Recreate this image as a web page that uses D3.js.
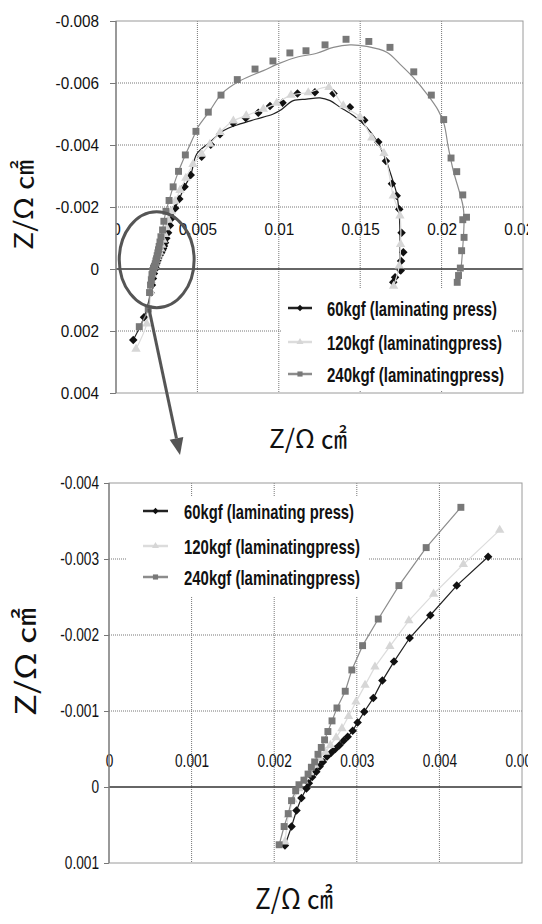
<!DOCTYPE html>
<html lang="en">
<head>
<meta charset="UTF-8">
<title>Impedance - laminating press</title>
<style>
  body { margin: 0; background: #fff; }
  svg { display: block; }
  .tick text { font-family: "Liberation Sans", Arial, sans-serif; fill: #111; }
  .legend-text { font-family: "Liberation Sans", Arial, sans-serif; font-weight: bold; fill: #111; }
  .axis-title { font-family: "Noto Sans CJK KR", sans-serif; fill: #111; }
</style>
</head>
<body>
<div id="chart"></div>
<script src="https://cdn.jsdelivr.net/npm/d3@7"></script>
<script>
// series names
const seriesNames = ["60kgf (laminating press)", "120kgf (laminatingpress)", "240kgf (laminatingpress)"];

// Z' , Z'' pairs (Z'' negative = up)
const z60 = [
  [0.00106, 0.00229], [0.00172, 0.00156], [0.00213, 0.00077], [0.00221, 0.00052],
  [0.00227, 0.00031], [0.00233, 0.000145], [0.00239, 0.00002], [0.00242, -0.00005],
  [0.00246, -0.00013], [0.00251, -0.00020], [0.00255, -0.00027], [0.00259, -0.00033],
  [0.00264, -0.00040], [0.00269, -0.00045], [0.00274, -0.00050], [0.00279, -0.00055],
  [0.00284, -0.00061], [0.00289, -0.00066], [0.00295, -0.00074], [0.00301, -0.00085],
  [0.00309, -0.00099], [0.00320, -0.00117], [0.00331, -0.00140], [0.00345, -0.00165],
  [0.00364, -0.00196], [0.00389, -0.00226], [0.00421, -0.00265], [0.00459, -0.00303],
  [0.00526, -0.00362], [0.00582, -0.00401], [0.00639, -0.00435], [0.00719, -0.00471],
  [0.00797, -0.00487], [0.00874, -0.00504], [0.00946, -0.00526], [0.01023, -0.00536],
  [0.01115, -0.00566], [0.01222, -0.00570], [0.01336, -0.00566], [0.01437, -0.00522],
  [0.01525, -0.00480], [0.01611, -0.00410], [0.01658, -0.00348], [0.01695, -0.00275],
  [0.01724, -0.00236], [0.01740, -0.00193], [0.01754, -0.00117], [0.01765, -0.00054],
  [0.01751, -0.00026], [0.01749, 0.00005], [0.01714, 0.00027], [0.01703, 0.00043]
];
const z120 = [
  [0.00123, 0.00258], [0.00189, 0.00177], [0.00213, 0.00072], [0.00217, 0.00037],
  [0.00223, 0.00017], [0.00230, 0.00002], [0.00236, -0.00008], [0.00243, -0.00019],
  [0.00249, -0.00029], [0.00255, -0.00038], [0.00262, -0.00046], [0.00268, -0.00055],
  [0.00275, -0.00065], [0.00282, -0.00077], [0.00290, -0.00093], [0.00299, -0.00112],
  [0.00310, -0.00134], [0.00322, -0.00158], [0.00340, -0.00185], [0.00363, -0.00219],
  [0.00393, -0.00254], [0.00429, -0.00293], [0.00473, -0.00338], [0.00526, -0.00371],
  [0.00577, -0.00403], [0.00639, -0.00441], [0.00721, -0.00478], [0.00800, -0.00495],
  [0.00905, -0.00516], [0.00987, -0.00535], [0.01075, -0.00561], [0.01181, -0.00569],
  [0.01308, -0.00586], [0.01396, -0.00527], [0.01499, -0.00490], [0.01571, -0.00423],
  [0.01646, -0.00373], [0.01703, -0.00236], [0.01744, -0.00172], [0.01748, -0.00080],
  [0.01740, -0.00010], [0.01705, 0.00055]
];
const z240 = [
  [0.00143, 0.00186], [0.00198, 0.00129], [0.00206, 0.00076], [0.00212, 0.00052],
  [0.00217, 0.00035], [0.00221, 0.00018], [0.00226, 0.00005], [0.00230, -0.00003],
  [0.00236, -0.00009], [0.00241, -0.00017], [0.00245, -0.00026], [0.00249, -0.00033],
  [0.00253, -0.00043], [0.00257, -0.00052], [0.00261, -0.00062], [0.00265, -0.00073],
  [0.00270, -0.00087], [0.00276, -0.00104], [0.00286, -0.00126], [0.00294, -0.00154],
  [0.00307, -0.00186], [0.00326, -0.00221], [0.00351, -0.00265], [0.00384, -0.00315],
  [0.00426, -0.00368], [0.00491, -0.00444], [0.00567, -0.00506], [0.00645, -0.00561],
  [0.00745, -0.00611], [0.00854, -0.00645], [0.00964, -0.00671], [0.01068, -0.00697],
  [0.01167, -0.00704], [0.01284, -0.00723], [0.01413, -0.00741], [0.01553, -0.00734],
  [0.01683, -0.00715], [0.01829, -0.00636], [0.01937, -0.00561], [0.02013, -0.00482],
  [0.02058, -0.00358], [0.02093, -0.00314], [0.02130, -0.00239], [0.02153, -0.00167],
  [0.02130, -0.00159], [0.02138, -0.00102], [0.02123, -0.00059], [0.02115, -0.00003],
  [0.02104, 0.00021], [0.02096, 0.00043]
];

// fitted curves shown on the full plot
const fit60 = [
  [0.00496, -0.00371], [0.00577, -0.00409], [0.00659, -0.00446], [0.00762, -0.00468],
  [0.00864, -0.00484], [0.00966, -0.00500], [0.01007, -0.00511], [0.01089, -0.00543],
  [0.01171, -0.00548], [0.01253, -0.00552], [0.01315, -0.00543], [0.01376, -0.00522],
  [0.01458, -0.00495], [0.01540, -0.00457], [0.01601, -0.00414], [0.01652, -0.00360],
  [0.01694, -0.00296], [0.01724, -0.00242], [0.01738, -0.00188], [0.01744, -0.00124],
  [0.01744, 0.00016]
];
const fit240 = [
  [0.00496, -0.00452], [0.00577, -0.00511], [0.00649, -0.00565], [0.00762, -0.00607],
  [0.00905, -0.00640], [0.01007, -0.00664], [0.01110, -0.00683], [0.01233, -0.00696],
  [0.01335, -0.00715], [0.01437, -0.00723], [0.01540, -0.00718], [0.01663, -0.00699],
  [0.01744, -0.00661], [0.01826, -0.00618], [0.01909, -0.00565], [0.01980, -0.00511],
  [0.02015, -0.00468], [0.02041, -0.00393], [0.02072, -0.00317], [0.02113, -0.00242],
  [0.02133, -0.00199], [0.02138, -0.00156], [0.02130, -0.00070], [0.02117, 0.00016]
];

// ticks
const topXTicks = [0, 0.005, 0.01, 0.015, 0.02, 0.025];
const topYTicks = [-0.008, -0.006, -0.004, -0.002, 0, 0.002, 0.004];
const botXTicks = [0, 0.001, 0.002, 0.003, 0.004, 0.005];
const botYTicks = [-0.004, -0.003, -0.002, -0.001, 0, 0.001];

// zoomed region marked on the full plot
const zoomMark = { x: 0.0025, y: -0.0003, rx: 0.0023, ry: 0.00155 };

const series = [
  { name: seriesNames[0], data: z60, fit: fit60, color: "#111", line: "#222", symbol: d3.symbolDiamond2, size: 46 },
  { name: seriesNames[1], data: z120, fit: null, color: "#d6d6d6", line: "#dcdcdc", symbol: d3.symbolTriangle, size: 38 },
  { name: seriesNames[2], data: z240, fit: fit240, color: "#787878", line: "#8c8c8c", symbol: d3.symbolSquare, size: 48 }
];

const svg = d3.select("#chart").append("svg")
  .attr("width", 542)
  .attr("height", 924);

const panels = [
  {
    id: "full",
    x: d3.scaleLinear([0, 0.025], [116, 523]),
    y: d3.scaleLinear([-0.008, 0.004], [21, 393]),
    xTicks: topXTicks, yTicks: topYTicks,
    labelAt: -0.00129, fontSize: 17, squeeze: 0.9, tickSize: 6, tickPad: 11,
    clip: [116, 528],
    legend: { x: 281, y: 289, w: 230, h: 101, rows: [308, 342, 374], line: [288, 312], textX: 327, widths: [170, 175, 177] },
    xTitle: { x: 269, y: 448, len: 78, size: 26 },
    yTitle: { x: 24, y: 205, len: 90, size: 26 },
    full: true
  },
  {
    id: "zoom",
    x: d3.scaleLinear([0, 0.005], [109, 522]),
    y: d3.scaleLinear([-0.004, 0.001], [483, 863]),
    xTicks: botXTicks, yTicks: botYTicks,
    labelAt: -0.00034, fontSize: 17.5, squeeze: 0.78, tickSize: 5, tickPad: 5,
    clip: [100, 528],
    legend: { x: 127, y: 497, w: 241, h: 100, rows: [511, 546, 577], line: [143, 168], textX: 184, widths: [170, 176, 176] },
    xTitle: { x: 255, y: 909, len: 78, size: 28 },
    yTitle: { x: 26, y: 662, len: 108, size: 28 },
    full: false
  }
];

// narrow the tick labels like the condensed face of the original
function squeezeText(sel, k) {
  sel.each(function () {
    const w = this.getComputedTextLength();
    d3.select(this).attr("textLength", w * k).attr("lengthAdjust", "spacingAndGlyphs");
  });
}

panels.forEach(p => {
  const [x0, x1] = p.x.range();
  const [y0, y1] = p.y.range();
  const g = svg.append("g");

  // dotted grid
  g.selectAll(".vgrid").data(p.xTicks.slice(1, -1)).join("line")
    .attr("x1", d => p.x(d)).attr("x2", d => p.x(d))
    .attr("y1", y0).attr("y2", y1)
    .attr("stroke", "#777").attr("stroke-width", 1).attr("stroke-dasharray", "1,1");
  g.selectAll(".hgrid").data(p.yTicks.filter(d => d !== 0).slice(1, -1)).join("line")
    .attr("x1", x0).attr("x2", x1)
    .attr("y1", d => p.y(d)).attr("y2", d => p.y(d))
    .attr("stroke", "#777").attr("stroke-width", 1).attr("stroke-dasharray", "1,1");

  // zero line
  g.append("line")
    .attr("x1", x0).attr("x2", x1)
    .attr("y1", p.y(0)).attr("y2", p.y(0))
    .attr("stroke", "#333").attr("stroke-width", 1.5);

  // x labels sit inside the plot, clipped to it
  const clipId = "clip-" + p.id;
  svg.append("clipPath").attr("id", clipId)
    .append("rect").attr("x", p.clip[0]).attr("y", y0).attr("width", p.clip[1] - p.clip[0]).attr("height", y1 - y0);
  const xAxis = g.append("g")
    .attr("clip-path", `url(#${clipId})`)
    .append("g")
    .attr("transform", `translate(0,${p.y(p.labelAt)})`)
    .call(d3.axisBottom(p.x).tickValues(p.xTicks).tickSize(0).tickPadding(0).tickFormat(d => String(d)));
  xAxis.select(".domain").remove();
  xAxis.selectAll("text").attr("dy", "0.35em").style("font-size", p.fontSize + "px").call(squeezeText, p.squeeze);

  // y axis
  const yAxis = g.append("g")
    .attr("transform", `translate(${x0},0)`)
    .call(d3.axisLeft(p.y).tickValues(p.yTicks).tickSize(p.tickSize).tickPadding(p.tickPad).tickFormat(d => String(d)));
  yAxis.select(".domain").remove();
  yAxis.selectAll("line").attr("stroke", "#777");
  yAxis.selectAll("text").style("font-size", p.fontSize + "px").call(squeezeText, p.squeeze);

  // plot frame
  g.append("rect")
    .attr("x", x0).attr("y", y0).attr("width", x1 - x0).attr("height", y1 - y0)
    .attr("fill", "none").attr("stroke", "#9a9a9a").attr("stroke-width", 1);
  g.append("line")
    .attr("x1", x0).attr("x2", x0).attr("y1", y0).attr("y2", y1)
    .attr("stroke", "#777").attr("stroke-width", 1.2);

  // data
  const dataClip = "dclip-" + p.id;
  svg.append("clipPath").attr("id", dataClip)
    .append("rect").attr("x", x0).attr("y", y0 - 4).attr("width", x1 - x0 + 4).attr("height", y1 - y0 + 4);
  const dg = g.append("g").attr("clip-path", `url(#${dataClip})`);

  series.forEach(s => {
    let pts, linePts, curve;
    if (p.full) {
      pts = s.data;
      if (s.fit) {
        const cut = s.data.findIndex(d => d[0] >= s.fit[0][0]);
        linePts = s.data.slice(0, cut).concat(s.fit);
      } else {
        linePts = s.data;
      }
      curve = d3.curveCatmullRom;
    } else {
      pts = s.data.filter(d => d[0] <= 0.0048 && d[1] >= -0.0039 && d[1] <= 0.001);
      linePts = pts;
      curve = d3.curveLinear;
    }
    dg.append("path")
      .datum(linePts)
      .attr("fill", "none")
      .attr("stroke", s.line)
      .attr("stroke-width", 1.2)
      .attr("d", d3.line().x(d => p.x(d[0])).y(d => p.y(d[1])).curve(curve));
    dg.selectAll(null).data(pts).join("path")
      .attr("transform", d => `translate(${p.x(d[0])},${p.y(d[1])})`)
      .attr("d", d3.symbol().type(s.symbol).size(s.size))
      .attr("fill", s.color);
  });

  // legend
  const L = p.legend;
  g.append("rect").attr("x", L.x).attr("y", L.y).attr("width", L.w).attr("height", L.h).attr("fill", "#fff");
  series.forEach((s, i) => {
    const ry = L.rows[i];
    g.append("line")
      .attr("x1", L.line[0]).attr("x2", L.line[1]).attr("y1", ry).attr("y2", ry)
      .attr("stroke", s.line).attr("stroke-width", 2.5);
    g.append("path")
      .attr("transform", `translate(${(L.line[0] + L.line[1]) / 2},${ry})`)
      .attr("d", d3.symbol().type(s.symbol).size(s.size * 0.55))
      .attr("fill", s.color);
    g.append("text")
      .attr("class", "legend-text")
      .attr("x", L.textX).attr("y", ry)
      .attr("dy", "0.36em")
      .attr("textLength", L.widths[i])
      .attr("lengthAdjust", "spacingAndGlyphs")
      .style("font-size", "21px")
      .text(s.name);
  });

  // axis titles
  g.append("text")
    .attr("class", "axis-title")
    .attr("x", p.xTitle.x).attr("y", p.xTitle.y)
    .attr("textLength", p.xTitle.len)
    .attr("lengthAdjust", "spacingAndGlyphs")
    .style("font-size", p.xTitle.size + "px")
    .text("Z/Ω ㎠");
  g.append("text")
    .attr("class", "axis-title")
    .attr("transform", `translate(${p.yTitle.x},${p.yTitle.y}) rotate(-90)`)
    .attr("text-anchor", "middle")
    .attr("dy", "0.35em")
    .attr("textLength", p.yTitle.len)
    .attr("lengthAdjust", "spacingAndGlyphs")
    .style("font-size", p.yTitle.size + "px")
    .text("Z/Ω ㎠");

  if (p.full) {
    // ellipse around the zoomed region + arrow to the lower plot
    g.append("ellipse")
      .attr("cx", p.x(zoomMark.x)).attr("cy", p.y(zoomMark.y))
      .attr("rx", p.x(zoomMark.rx) - p.x(0)).attr("ry", p.y(zoomMark.ry) - p.y(0))
      .attr("fill", "none").attr("stroke", "#555").attr("stroke-width", 3);
    const ax = p.x(0.00202), ay = p.y(0.00127);
    const tx = 180, ty = 455;
    const ang = Math.atan2(ty - ay, tx - ax);
    const hl = 17, hw = 7;
    const bx = tx - hl * Math.cos(ang), by = ty - hl * Math.sin(ang);
    g.append("line")
      .attr("x1", ax).attr("y1", ay).attr("x2", bx).attr("y2", by)
      .attr("stroke", "#555").attr("stroke-width", 3);
    g.append("path")
      .attr("d", `M${tx},${ty}L${bx + hw * Math.sin(ang)},${by - hw * Math.cos(ang)}L${bx - hw * Math.sin(ang)},${by + hw * Math.cos(ang)}Z`)
      .attr("fill", "#555");
  }
});
</script>
</body>
</html>
